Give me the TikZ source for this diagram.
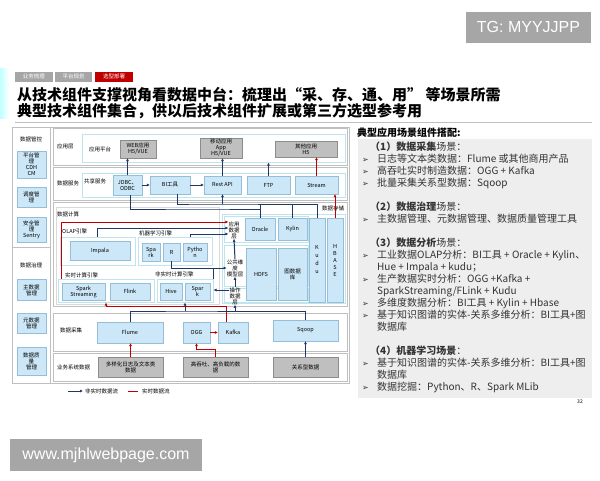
\documentclass[tikz,border=0pt]{standalone}
\usepackage{fontspec}
\setmainfont{Noto Sans CJK SC}
\newfontfamily\dejavu{DejaVu Sans}
\newfontfamily\arialfont{Liberation Sans}
\usetikzlibrary{arrows.meta,positioning}
\definecolor{boxblue}{RGB}{204,232,248}
\definecolor{boxedge}{RGB}{150,190,215}
\definecolor{grayfill}{RGB}{191,191,191}
\definecolor{grayedge}{RGB}{140,140,140}
\definecolor{navy}{RGB}{31,56,100}
\definecolor{darkred}{RGB}{192,0,0}
\definecolor{grpedge}{RGB}{190,228,238}
\definecolor{layeredge}{RGB}{191,191,191}
\definecolor{panelgray}{RGB}{238,238,238}
\definecolor{tabgray}{RGB}{166,166,166}
\newcommand{\pitem}{\makebox[15pt][l]{\dejavu\fontsize{8}{8}\selectfont ➢}}
\newcommand{\pindent}{\hspace*{15pt}}

\begin{document}
\begin{tikzpicture}[x=1pt,y=-1pt,
    bluebox/.style={draw=boxedge,fill=boxblue,inner sep=0pt,align=center,font=\fontsize{5.5}{6}\selectfont},
    graybox/.style={draw=grayedge,fill=grayfill,inner sep=0pt,align=center,font=\fontsize{5.5}{6}\selectfont},
    layerbox/.style={draw=layeredge,fill=white,line width=0.8pt},
    grpbox/.style={draw=grpedge,line width=1pt},
    lbl/.style={inner sep=0pt,align=center,font=\fontsize{5.5}{6}\selectfont},
    tabbox/.style={fill=tabgray,text=white,inner sep=0pt,minimum height=10pt,font=\fontsize{5.5}{6}\selectfont},
    dkarrow/.style={draw=navy,line width=1pt,-{Latex[length=3pt,width=3pt]}},
    rdarrow/.style={draw=darkred,line width=1pt,-{Latex[length=3pt,width=3pt]}},
    dkline/.style={draw=navy,line width=1pt},
    rdline/.style={draw=darkred,line width=1pt}]
  \useasboundingbox (0,0) rectangle (600,480);
  \fill[white] (0,0) rectangle (600,480);

  \node[fill=tabgray,text=white,inner sep=0pt,minimum width=125pt,minimum height=31pt,font=\arialfont\fontsize{16}{16}\selectfont] (tg) at (528.5,27) {TG: MYYJJPP};
  \shade[left color=cyan!25,right color=white] (0,68) rectangle (9,118);
  \node[tabbox,minimum width=38pt] (tabbiz) at (34,76.5) {业务梳理};
  \node[tabbox,minimum width=37pt] (tabplan) at (73.5,76.5) {平台规划};
  \node[tabbox,fill=darkred,minimum width=38pt] (tabsel) at (114,76.5) {选型部署};
  \node[anchor=base west,inner sep=0pt,font=\fontsize{15}{15}\selectfont\bfseries] (title1) at (17,100) {从技术组件支撑视角看数据中台：梳理出“采、存、通、用” 等场景所需};
  \node[anchor=base west,inner sep=0pt,font=\fontsize{15}{15}\selectfont\bfseries] (title2) at (17,116) {典型技术组件集合，供以后技术组件扩展或第三方选型参考用};
  \draw[gray!50] (15,122) -- (592,122);

  \draw[layeredge,line width=0.8pt] (12,127) rectangle (349,383);
  \draw[layeredge,line width=0.8pt] (50,127) -- (50,383);
  \draw[layeredge,line width=0.8pt] (12,247) -- (50,247);
  \node[lbl] (govctl) at (31,139) {数据管控};
  \node[bluebox,minimum width=29pt,minimum height=27pt] (pm) at (31.5,164.5) {平台管\\理\\CDH\\CM};
  \node[bluebox,minimum width=29pt,minimum height=20pt] (sched) at (31.5,197) {调度管\\理};
  \node[bluebox,minimum width=29pt,minimum height=25pt] (sec) at (31.5,229.5) {安全管\\理\\Sentry};
  \node[lbl] (govern) at (31,265) {数据治理};
  \node[bluebox,minimum width=29pt,minimum height=21pt] (mdm) at (31.5,290) {主数据\\管理};
  \node[bluebox,minimum width=29pt,minimum height=20pt] (meta) at (31.5,323) {元数据\\管理};
  \node[bluebox,minimum width=29pt,minimum height=28pt] (dq) at (31.5,361) {数据质\\量\\管理};

  \node[layerbox,minimum width=294pt,minimum height=37pt] (lapp) at (200,146.5) {};
  \node[layerbox,minimum width=294pt,minimum height=33pt] (lsrv) at (200,183.5) {};
  \node[layerbox,minimum width=294pt,minimum height=104pt] (lcmp) at (200,254) {};
  \node[layerbox,minimum width=294pt,minimum height=38pt] (lcol) at (200,332) {};
  \node[layerbox,minimum width=294pt,minimum height=28pt] (lbiz) at (200,367) {};
  \node[lbl,anchor=west] (tapp) at (57,146) {应用层};
  \node[lbl,anchor=west] (tsrv) at (57,183) {数据服务};
  \node[lbl,anchor=west] (tcmp) at (57,214) {数据计算};
  \node[lbl,anchor=west] (tcol) at (60,330) {数据采集};
  \node[lbl,anchor=west] (tbiz) at (57,367) {业务系统数据};

  \node[grpbox,minimum width=263pt,minimum height=28pt] (apg) at (213.5,148) {};
  \node[lbl] (tapg) at (100,149) {应用平台};
  \node[graybox,minimum width=36pt,minimum height=18pt] (web) at (138,149) {WEB应用\\H5/VUE};
  \node[graybox,minimum width=42pt,minimum height=20pt] (mob) at (221,148) {移动应用\\App\\H5/VUE};
  \node[graybox,minimum width=62pt,minimum height=16pt] (oth) at (306,149) {其他应用\\H5};

  \node[grpbox,minimum width=263pt,minimum height=24pt] (shs) at (213.5,185) {};
  \node[lbl] (tshs) at (95,181) {共享服务};
  \node[bluebox,minimum width=29pt,minimum height=20pt] (jdbc) at (127.5,185) {JDBC、\\ODBC};
  \node[bluebox,minimum width=40pt,minimum height=18pt] (bi) at (170,185) {BI工具};
  \node[bluebox,minimum width=37pt,minimum height=18pt] (rest) at (222.5,185) {Rest API};
  \node[bluebox,minimum width=43pt,minimum height=18pt] (ftp) at (268.5,185) {FTP};
  \node[bluebox,minimum width=43pt,minimum height=18pt] (stream) at (316.5,185) {Stream};

  \node[draw=gray!30,minimum width=163pt,minimum height=97pt] (cmp) at (137.5,255.5) {};
  \node[grpbox,minimum width=75pt,minimum height=28pt] (olap) at (97.5,251) {};
  \node[lbl,anchor=west] (tolap) at (62,231) {OLAP引擎};
  \node[bluebox,minimum width=60pt,minimum height=19pt] (impala) at (100,250.5) {Impala};
  \node[grpbox,minimum width=74pt,minimum height=28pt] (ml) at (175,251) {};
  \node[lbl,anchor=west] (tml) at (139,233) {机器学习引擎};
  \node[bluebox,minimum width=18pt,minimum height=18pt] (mlspark) at (151,252) {Spa\\rk};
  \node[bluebox,minimum width=17pt,minimum height=18pt] (r) at (171.5,252) {R};
  \node[bluebox,minimum width=24pt,minimum height=18pt] (py) at (195,252) {Pytho\\n};
  \node[grpbox,minimum width=96pt,minimum height=23pt] (rt) at (106,290.5) {};
  \node[lbl,anchor=west] (trt) at (65,275) {实时计算引擎};
  \node[bluebox,minimum width=43pt,minimum height=17pt] (ssm) at (83.5,291.5) {Spark\\Streaming};
  \node[bluebox,minimum width=40pt,minimum height=17pt] (flink) at (130,291.5) {Flink};
  \node[grpbox,minimum width=56pt,minimum height=23pt] (nrt) at (185,290.5) {};
  \node[lbl,anchor=west] (tnrt) at (155,274) {非实时计算引擎};
  \node[bluebox,minimum width=22pt,minimum height=17pt] (hive) at (171,291.5) {Hive};
  \node[bluebox,minimum width=25pt,minimum height=17pt] (spk) at (197.5,291.5) {Spar\\k};

  \node[grpbox,minimum width=123pt,minimum height=89pt] (sto) at (283.5,258.5) {};
  \node[lbl] (tsto) at (333,208) {数据存储};
  \draw[grpedge,line width=0.8pt] (224,216) rectangle (308,242);
  \draw[grpedge,line width=0.8pt] (224,245) rectangle (308,286);
  \draw[grpedge,line width=0.8pt] (224,288) rectangle (308,302);
  \node[lbl] (appl) at (234,230) {应用\\数据\\层};
  \node[bluebox,minimum width=30pt,minimum height=22pt] (oracle) at (260,229) {Oracle};
  \node[bluebox,minimum width=29pt,minimum height=22pt] (kylin) at (292.5,229) {Kylin};
  \node[bluebox,minimum width=16pt,minimum height=84pt,font=\fontsize{5.5}{8}\selectfont] (kudu) at (317,260) {K\\u\\d\\u};
  \node[bluebox,minimum width=16pt,minimum height=84pt,font=\fontsize{5.5}{7}\selectfont] (hbase) at (335,260) {H\\B\\A\\S\\E};
  \node[lbl] (cdm) at (235,268) {公共维\\度\\模型层};
  \node[bluebox,minimum width=30pt,minimum height=52pt] (hdfs) at (261,274) {HDFS};
  \node[bluebox,minimum width=29pt,minimum height=52pt] (graph) at (292.5,274) {图数据\\库};
  \node[lbl] (opd) at (235,296) {操作\\数据\\层};

  \node[bluebox,minimum width=66pt,minimum height=21pt] (flume) at (130,332.5) {Flume};
  \node[bluebox,minimum width=27pt,minimum height=21pt] (ogg) at (196.5,332.5) {OGG};
  \node[bluebox,minimum width=30pt,minimum height=21pt] (kafka) at (233,332.5) {Kafka};
  \node[bluebox,minimum width=65pt,minimum height=21pt] (sqoop) at (305.5,330.5) {Sqoop};
  \node[graybox,minimum width=65pt,minimum height=20pt] (logs) at (130.5,367) {多样化日志及文本类\\数据};
  \node[graybox,minimum width=65pt,minimum height=20pt] (heavy) at (215.5,367) {高吞吐、高负载的数\\据};
  \node[graybox,minimum width=65pt,minimum height=20pt] (rel) at (305.5,367) {关系型数据};

  \coordinate (busa) at (200,204);
  \coordinate (busb) at (200,209);
  \coordinate (cbus) at (200,311);
  \draw[dkarrow] (jdbc.north) -- (jdbc.north |- web.south);
  \draw[dkarrow] (jdbc.east) -- (bi.west);
  \draw[dkarrow] (bi.east) -- (rest.west);
  \draw[dkarrow] (rest.north) -- (rest.north |- mob.south);
  \draw[dkarrow] (ftp.north) -- (ftp.north |- apg.south);
  \draw[rdarrow] (stream.north) -- (stream.north |- oth.south);
  \draw[dkline] ([xshift=7pt]bi.south) |- (busa) -| (kudu.north);
  \draw[dkline] (oracle.north) -- (oracle.north |- busa);
  \draw[dkline] (kylin.north) -- (kylin.north |- busa);
  \draw[dkline] ([xshift=3pt]jdbc.south) |- (busb) -| (oracle.north);
  \draw[dkarrow] (rest.south |- busa) -- (rest.south);
  \draw[rdarrow] (hbase.north) -- (hbase.north |- stream.south);

  \draw[rdarrow] ([xshift=4pt]rt.north west) |- ([yshift=8pt]appl.west);
  \draw[dkarrow] (olap.north) |- ([yshift=2pt]appl.west);
  \draw[dkarrow] ([xshift=15pt]ml.north) |- ([yshift=-4pt]appl.west);
  \draw[dkarrow] (r.south) |- (cdm.west);
  \draw[dkline] (nrt.north east) -- (nrt.north east |- cdm.west);
  \draw[dkarrow] ([yshift=6pt]opd.west) -- ([yshift=6pt]opd.west -| nrt.east);
  \draw[dkarrow] (cdm.north) -- (appl.south);
  \draw[dkarrow] (opd.north) -- (cdm.south);

  \draw[rdarrow] (logs.north) -- (logs.north |- flume.south);
  \draw[rdarrow] (heavy.north) -- ++(0,-7) -| (ogg.south);
  \draw[rdarrow] (ogg.east) -- (kafka.west);
  \draw[rdarrow] ([xshift=-7pt]kafka.north) -- ++(0,-15) -| (rt.south);
  \draw[dkarrow] (flume.north) |- (cbus) -| (opd.south);
  \draw[dkarrow] (nrt.south |- cbus) -- (nrt.south);
  \draw[dkline] (sqoop.north) |- (opd.south |- cbus);
  \draw[dkarrow] (rel.north) -- (rel.north |- sqoop.south);

  \coordinate (lga) at (68,391);
  \node[lbl,anchor=west] (lgta) at (85,391) {非实时数据流};
  \draw[dkarrow,line width=0.6pt] (lga) -- ([xshift=-2pt]lgta.west);
  \coordinate (lgb) at (128,391);
  \node[lbl,anchor=west] (lgtb) at (142,391) {实时数据流};
  \draw[rdline,line width=0.6pt] (lgb) -- ([xshift=-4pt]lgtb.west);

  \node[anchor=base west,inner sep=0pt,font=\fontsize{10}{10}\selectfont\bfseries] (scentitle) at (357,136) {典型应用场景组件搭配:};
  \fill[panelgray] (358,139) rectangle (592,398);
  \node[anchor=north west,inner sep=0pt,align=left,text=black!80,font=\fontsize{10}{12}\selectfont] (scen) at (362,141.5) {%
    \hspace*{8pt}\textbf{（1）数据采集}场景：\\
    \pitem 日志等文本类数据：Flume 或其他商用产品\\
    \pitem 高吞吐实时制造数据：OGG + Kafka\\
    \pitem 批量采集关系型数据：Sqoop\\[12pt]
    \hspace*{8pt}\textbf{（2）数据治理}场景：\\
    \pitem 主数据管理、元数据管理、数据质量管理工具\\[12pt]
    \hspace*{8pt}\textbf{（3）数据分析}场景：\\
    \pitem 工业数据OLAP分析：BI工具 + Oracle + Kylin、\\
    \pindent Hue + Impala + kudu；\\
    \pitem 生产数据实时分析：OGG +Kafka +\\
    \pindent SparkStreaming/FLink + Kudu\\
    \pitem 多维度数据分析：BI工具 + Kylin + Hbase\\
    \pitem 基于知识图谱的实体-关系多维分析：BI工具+图\\
    \pindent 数据库\\[12pt]
    \hspace*{8pt}\textbf{（4）机器学习场景}：\\
    \pitem 基于知识图谱的实体-关系多维分析：BI工具+图\\
    \pindent 数据库\\
    \pitem 数据挖掘：Python、R、Spark MLib};
  \node[lbl,font=\fontsize{5}{5}\selectfont] (pageno) at (580,402) {32};

  \node[fill=tabgray,text=white,inner sep=0pt,minimum width=192pt,minimum height=32pt,font=\arialfont\fontsize{16}{16}\selectfont] (www) at (106,455) {www.mjhlwebpage.com};
\end{tikzpicture}
\end{document}
